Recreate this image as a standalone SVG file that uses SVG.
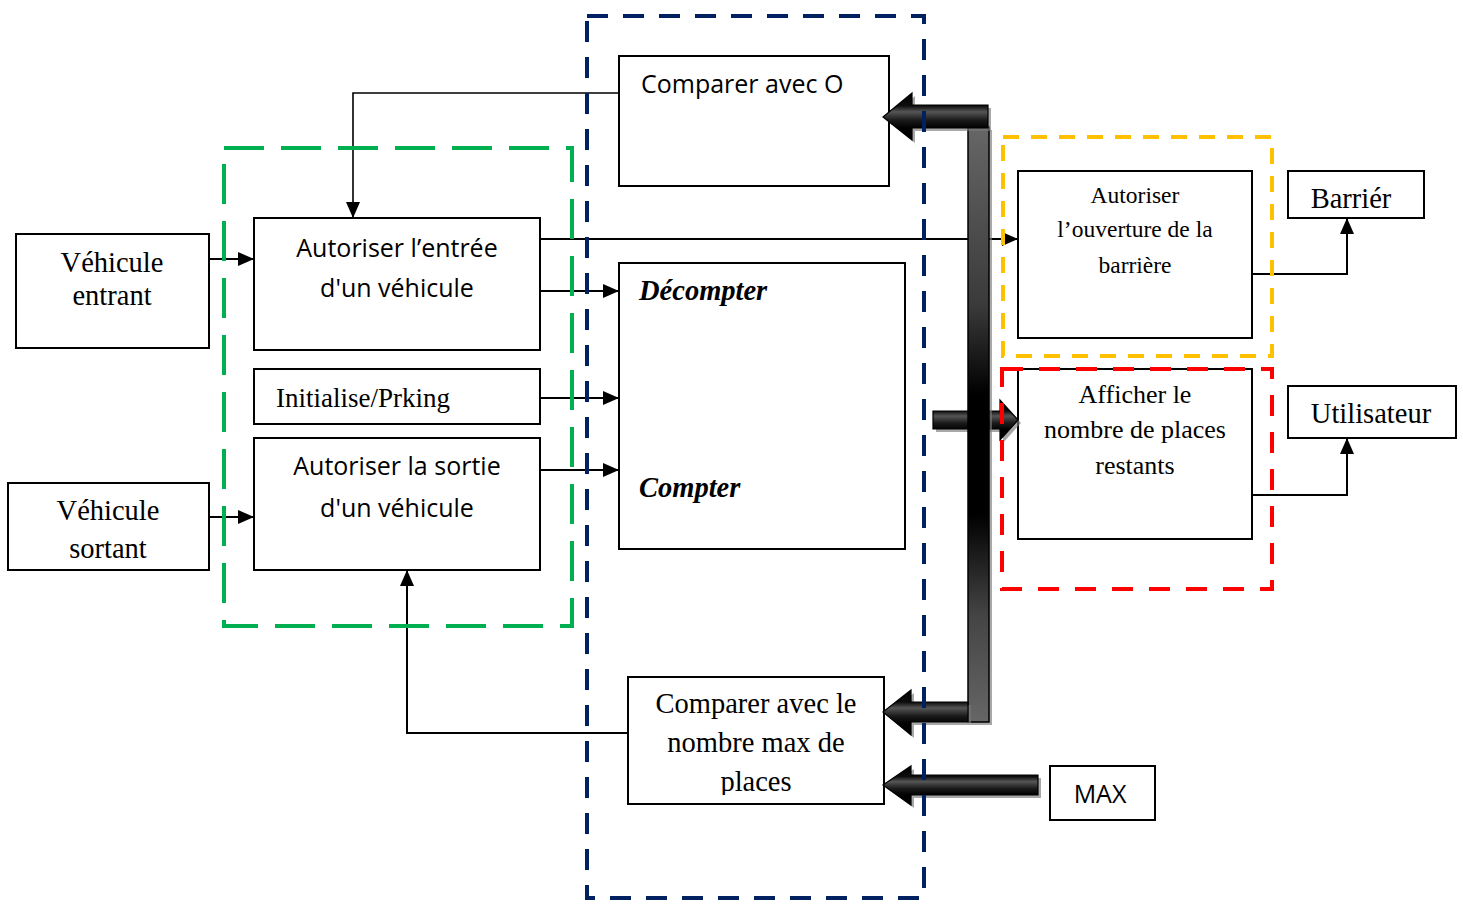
<svg xmlns="http://www.w3.org/2000/svg" width="1463" height="904" viewBox="0 0 1463 904">
<style>
.box{fill:#fff;stroke:#000;stroke-width:2}
.sans{font-family:"Open Sans","Noto Sans",sans-serif;font-size:25px;fill:#000}
.serif{font-family:"Liberation Serif","Times New Roman",serif;font-size:28.5px;fill:#000}
.conn{fill:none;stroke:#000;stroke-width:2}
.blk{fill:url(#gH);stroke:#000;stroke-width:1.2}
.shadow{fill:#7a7a7a;opacity:.65}
.grp{fill:none;stroke-width:4}
</style>
<defs>
<marker id="ah" markerUnits="userSpaceOnUse" markerWidth="16" markerHeight="14" refX="16" refY="7" orient="auto">
<path d="M0,0 L16,7 L0,14 z" fill="#000"/>
</marker>
<linearGradient id="gH" x1="0" y1="0" x2="0" y2="1">
<stop offset="0" stop-color="#000"/>
<stop offset="0.27" stop-color="#0d0d0d"/>
<stop offset="0.4" stop-color="#555"/>
<stop offset="0.58" stop-color="#1a1a1a"/>
<stop offset="0.75" stop-color="#000"/>
<stop offset="1" stop-color="#000"/>
</linearGradient>
<linearGradient id="gV" x1="0" y1="0" x2="0" y2="1">
<stop offset="0" stop-color="#666"/>
<stop offset="0.3" stop-color="#3a3a3a"/>
<stop offset="0.45" stop-color="#000"/>
<stop offset="0.65" stop-color="#000"/>
<stop offset="0.82" stop-color="#444"/>
<stop offset="1" stop-color="#666"/>
</linearGradient>
<clipPath id="clipMax"><rect x="628" y="676" width="256" height="119"/></clipPath>
</defs>

<!-- nodes -->
<g id="vehicule-entrant">
<rect class="box" x="16" y="234" width="193" height="114"/>
<text class="serif" x="112" y="272" text-anchor="middle">Véhicule</text>
<text class="serif" x="112" y="305" text-anchor="middle">entrant</text>
</g>
<g id="vehicule-sortant">
<rect class="box" x="8" y="483" width="201" height="87"/>
<text class="serif" x="108" y="520" text-anchor="middle">Véhicule</text>
<text class="serif" x="108" y="558" text-anchor="middle">sortant</text>
</g>
<g id="autoriser-entree">
<rect class="box" x="254" y="218" width="286" height="132"/>
<text class="sans" x="397" y="257" text-anchor="middle">Autoriser l’entrée</text>
<text class="sans" x="397" y="297" text-anchor="middle">d'un véhicule</text>
</g>
<g id="initialise">
<rect class="box" x="254" y="369" width="286" height="55"/>
<text class="serif" x="276" y="407" style="font-size:27px">Initialise/Prking</text>
</g>
<g id="autoriser-sortie">
<rect class="box" x="254" y="438" width="286" height="132"/>
<text class="sans" x="397" y="475" text-anchor="middle">Autoriser la sortie</text>
<text class="sans" x="397" y="517" text-anchor="middle">d'un véhicule</text>
</g>
<g id="comparer-o">
<rect class="box" x="619" y="56" width="270" height="130"/>
<text class="sans" x="641" y="93">Comparer avec O</text>
</g>
<g id="decompter-compter">
<rect class="box" x="619" y="263" width="286" height="286"/>
<text class="serif" x="639" y="300" style="font-weight:bold;font-style:italic">Décompter</text>
<text class="serif" x="639" y="497" style="font-weight:bold;font-style:italic">Compter</text>
</g>
<g id="comparer-max">
<rect class="box" x="628" y="677" width="256" height="127"/>
<g clip-path="url(#clipMax)">
<text class="serif" x="756" y="713" text-anchor="middle">Comparer avec le</text>
<text class="serif" x="756" y="752" text-anchor="middle">nombre max de</text>
<text class="serif" x="756" y="791" text-anchor="middle">places</text>
</g>
</g>
<g id="max">
<rect class="box" x="1050" y="766" width="105" height="54"/>
<text class="sans" x="1100" y="803" text-anchor="middle">MAX</text>
</g>
<g id="autoriser-ouverture">
<rect class="box" x="1018" y="171" width="234" height="167"/>
<text class="serif" x="1135" y="203" text-anchor="middle" style="font-size:23.5px">Autoriser</text>
<text class="serif" x="1135" y="237" text-anchor="middle" style="font-size:23.5px">l’ouverture de la</text>
<text class="serif" x="1135" y="273" text-anchor="middle" style="font-size:23.5px">barrière</text>
</g>
<g id="barrier">
<rect class="box" x="1288" y="171" width="136" height="47"/>
<text class="serif" x="1351" y="208" text-anchor="middle">Barriér</text>
</g>
<g id="afficher">
<rect class="box" x="1018" y="369" width="234" height="170"/>
<text class="serif" x="1135" y="403" text-anchor="middle" style="font-size:26px">Afficher le</text>
<text class="serif" x="1135" y="438" text-anchor="middle" style="font-size:26px">nombre de places</text>
<text class="serif" x="1135" y="474" text-anchor="middle" style="font-size:26px">restants</text>
</g>
<g id="utilisateur">
<rect class="box" x="1288" y="386" width="168" height="52"/>
<text class="serif" x="1371" y="423" text-anchor="middle">Utilisateur</text>
</g>

<!-- connectors -->
<g id="connectors">
<path class="conn" d="M619,93 H353 V218" style="stroke-width:1.6" marker-end="url(#ah)"/>
<path class="conn" d="M209,259 H254" marker-end="url(#ah)"/>
<path class="conn" d="M209,517 H254" marker-end="url(#ah)"/>
<path class="conn" d="M540,239 H1018" marker-end="url(#ah)"/>
<path class="conn" d="M540,291 H619" marker-end="url(#ah)"/>
<path class="conn" d="M540,398 H619" marker-end="url(#ah)"/>
<path class="conn" d="M540,470 H619" marker-end="url(#ah)"/>
<path class="conn" d="M628,733 H407 V570" marker-end="url(#ah)"/>
<path class="conn" d="M1252,274 H1347 V218" marker-end="url(#ah)"/>
<path class="conn" d="M1252,495 H1347 V438" marker-end="url(#ah)"/>

<!-- block arrows -->
<path class="shadow" transform="translate(3,3)" d="M933,411 H1000 V400 L1018,420 L1000,440 V429 H933 z"/>
<path class="blk" d="M933,411 H1000 V400 L1018,420 L1000,440 V429 H933 z"/>
<rect class="shadow" x="971" y="130" width="21" height="595"/>
<rect x="968" y="127" width="21" height="595" fill="url(#gV)" stroke="#000" stroke-width="1.5"/>
<path class="shadow" transform="translate(3,3)" d="M883,117 L912,93 V105 H988 V128 H912 V140 z"/>
<path class="blk" d="M883,117 L912,93 V105 H988 V128 H912 V140 z"/>
<path class="shadow" transform="translate(3,3)" d="M883,712 L911,690 V702 H968 V722 H911 V735 z"/>
<path class="blk" d="M883,712 L911,690 V702 H968 V722 H911 V735 z"/>
<path class="shadow" transform="translate(3,3)" d="M883,785 L911,766 V775 H1038 V795 H911 V805 z"/>
<path class="blk" d="M883,785 L911,766 V775 H1038 V795 H911 V805 z"/>
</g>

<!-- group frames -->
<g id="frame-green"><rect class="grp" x="224" y="148" width="348" height="478" stroke="#00B050" stroke-dasharray="40 17"/></g>
<g id="frame-navy"><rect class="grp" x="587" y="16" width="337" height="882" stroke="#002060" stroke-dasharray="21 15"/></g>
<g id="frame-yellow"><rect class="grp" x="1003" y="137" width="269" height="219" stroke="#FFC000" stroke-dasharray="16 12"/></g>
<g id="frame-red"><rect class="grp" x="1002" y="369" width="270" height="220" stroke="#FF0000" stroke-dasharray="21 16"/></g>
</svg>
